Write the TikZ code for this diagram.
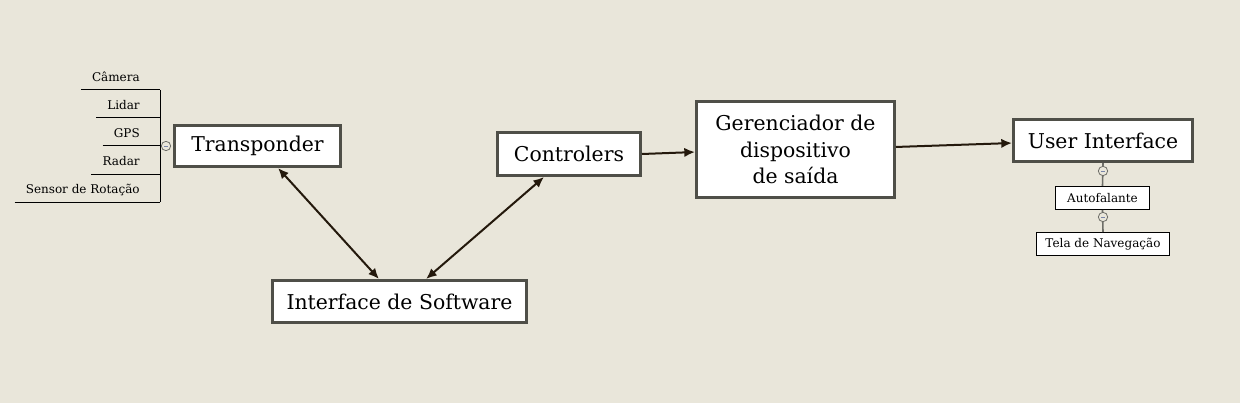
\documentclass[tikz,border=0pt]{standalone}
\usepackage{fontspec}
\setmainfont{DejaVu Serif}
\usetikzlibrary{arrows.meta}
\definecolor{bg}{HTML}{E9E6DA}
\definecolor{boxgray}{HTML}{4F4F48}
\definecolor{arrowc}{HTML}{24190C}
\definecolor{conngray}{HTML}{6E6E68}
\definecolor{circblue}{HTML}{7A86A8}
\begin{document}
\begin{tikzpicture}[x=0.75pt,y=-0.75pt,
  bigbox/.style={draw=boxgray, line width=2.25pt, fill=white, font=\fontsize{15.3}{20}\selectfont, inner sep=0pt, align=center},
  smallbox/.style={draw=black, line width=0.75pt, fill=white, font=\fontsize{9}{10}\selectfont, inner sep=0pt},
  lbl/.style={font=\fontsize{9}{11}\selectfont, inner xsep=8.25pt, inner ysep=6pt, text depth=0pt, anchor=south east, execute at end node={\hspace{6.75pt}}},
  treeline/.style={draw=black, line width=0.75pt},
  subline/.style={draw=conngray, line width=1.2pt},
  arr/.style={draw=arrowc, line width=1.5pt, -{Latex[length=8pt,width=7pt]}},
  arr2/.style={draw=arrowc, line width=1.5pt, {Latex[length=8pt,width=7pt]}-{Latex[length=8pt,width=7pt]}},
  circ/.style={circle, draw=conngray, fill=bg, minimum size=7pt, inner sep=0pt, line width=0.6pt,
    path picture={\draw[circblue, line width=0.6pt] ([xshift=-1.6pt]path picture bounding box.center) -- ([xshift=1.6pt]path picture bounding box.center);}}
]
\fill[bg] (0,0) rectangle (1240,403);
\useasboundingbox (0,0) rectangle (1240,403);

% main boxes
\node[bigbox, minimum width=124.5pt, minimum height=30.75pt] (tr) at (257.5,146) {Transponder};
\node[bigbox, minimum width=107.25pt, minimum height=32.25pt] (ctl) at (569,154) {Controlers};
\node[bigbox, minimum width=148.5pt, minimum height=72pt] (ger) at (795.5,149.5) {Gerenciador de\\dispositivo\\de saída};
\node[bigbox, minimum width=134.25pt, minimum height=31.5pt] (ui) at (1103,140.5) {User Interface};
\node[bigbox, minimum width=190.5pt, minimum height=31.5pt] (isw) at (399.5,301.5) {Interface de Software};

% sub boxes
\node[smallbox, minimum width=70.5pt, minimum height=17.25pt] (af) at (1102.5,198) {Autofalante};
\node[smallbox, minimum width=99.75pt, minimum height=17.25pt] (tela) at (1103,244) {Tela de Navegação};
\draw[subline] (ui.south) -- (af.north);
\draw[subline] (af.south) -- (tela.north);
\node[circ] (c2) at (1103,171) {};
\node[circ] (c3) at (1103,217) {};

% left tree
\node[lbl] (cam) at (160,90) {Câmera};
\node[lbl] (lid) at (160,118) {Lidar};
\node[lbl] (gps) at (160,146) {GPS};
\node[lbl] (rad) at (160,174) {Radar};
\node[lbl] (sen) at (160,202) {Sensor de Rotação};
\node[circ] (c1) at (166,146) {};
\foreach \n in {cam,lid,gps,rad,sen} \draw[treeline] (\n.south west) -- (\n.south east);
\draw[treeline] (cam.south east) -- (sen.south east);
\draw[treeline] (gps.south east) -- (c1.west);

% arrows
\draw[arr2] ([xshift=15.4pt]tr.south) -- ([xshift=-15.4pt]isw.north);
\draw[arr2] ([xshift=-18.75pt]ctl.south) -- ([xshift=19.9pt]isw.north);
\draw[arr] (ctl.east) -- ([yshift=-1.9pt]ger.west);
\draw[arr] ([yshift=1.9pt]ger.east) -- ([yshift=-1.9pt]ui.west);
\end{tikzpicture}
\end{document}
